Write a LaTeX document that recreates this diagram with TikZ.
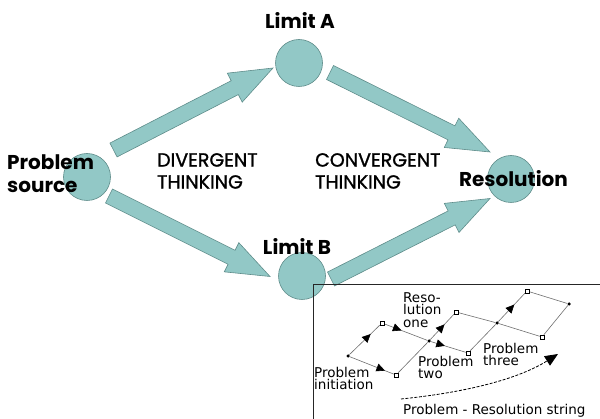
\documentclass[tikz,border=0pt]{standalone}
\usepackage{fontspec}
\setmainfont{Poppins}
\newfontfamily\thinkfont[FakeBold=1.3]{Poppins}
\newfontfamily\insetfont{DejaVu Sans}
\usetikzlibrary{calc,arrows.meta,decorations.markings,backgrounds}
\definecolor{tealfill}{HTML}{92C8C6}
\definecolor{tealline}{HTML}{5E8C8A}
\definecolor{edgegray}{HTML}{6E6E6E}
\tikzset{
  blob/.style={circle, draw=tealline, fill=tealfill, line width=0.6pt, minimum size=47pt, inner sep=0pt},
  bigarr/.style={draw=tealline, fill=tealfill, line width=0.6pt, line join=miter},
  biglbl/.style={font=\fontsize{20}{23}\selectfont\bfseries, inner sep=0pt, align=left},
  thinklbl/.style={font=\thinkfont\fontsize{19}{22}\selectfont, inner sep=0pt, align=left},
  smalllbl/.style={font=\insetfont\fontsize{13.5}{12.5}\selectfont, inner sep=0pt, align=left},
  knot/.style={circle, fill=black, inner sep=0pt, minimum size=3.5pt},
  limitsq/.style={rectangle, draw=black, fill=white, line width=0.5pt, inner sep=0pt, minimum size=4pt},
  link/.style={draw=edgegray, line width=0.6pt},
  tri/.style={postaction={decorate, decoration={markings,
      mark=at position #1 with {\arrow{Triangle[length=8.5pt,width=8pt,color=black,fill=black]}}}}},
  stringarr/.style={line width=0.8pt, dash pattern=on 3pt off 1.5pt, -{Triangle[length=13pt,width=11pt]}},
}
% fat arrow between two points
\newcommand{\bigarrow}[2]{%
  \coordinate (neck) at ($(#2)!43pt!(#1)$);
  \filldraw[bigarr] ($(#1)!7.8pt!90:(#2)$) -- ($(neck)!7.8pt!-90:(#1)$)
    -- ($(neck)!16.3pt!-90:(#1)$) -- (#2) -- ($(neck)!16.3pt!90:(#1)$)
    -- ($(neck)!7.8pt!90:(#1)$) -- ($(#1)!7.8pt!-90:(#2)$) -- cycle;}

\begin{document}
\begin{tikzpicture}[x=1pt, y=-1pt]
  \useasboundingbox (0,0) rectangle (600,419);

  % the four stages
  \node[blob] (ps) at (87,177) {};
  \node[blob] (lima) at (299,63) {};
  \node[blob] (limb) at (302,276) {};
  \node[blob] (res) at (511,179) {};

  \coordinate (upS) at ([shift={(26.5,-27)}]ps.center);
  \coordinate (upE) at ([shift={(-26,5)}]lima.center);
  \coordinate (dnS) at ([shift={(22,19)}]ps.center);
  \coordinate (dnE) at ([shift={(-32,0.5)}]limb.center);
  \coordinate (cvaS) at ([shift={(31,9.5)}]lima.center);
  \coordinate (cvaE) at ([shift={(-21,-27)}]res.center);
  \coordinate (cvbS) at ([shift={(29,3)}]limb.center);
  \coordinate (cvbE) at ([shift={(-21,19.5)}]res.center);
  \bigarrow{upS}{upE}
  \bigarrow{dnS}{dnE}
  \bigarrow{cvaS}{cvaE}
  \bigarrow{cvbS}{cvbE}

  \node[biglbl, anchor=north west] (pslbl) at (7,155) {Problem\\source};
  \node[biglbl] (limalbl) at (300,20) {Limit A};
  \node[biglbl] (limblbl) at (297,246) {Limit B};
  \node[biglbl] (reslbl) at (513.5,178.5) {Resolution};
  \node[thinklbl, anchor=north west] (divlbl) at (157,153) {DIVERGENT\\THINKING};
  \node[thinklbl, anchor=north west] (convlbl) at (315,153) {CONVERGENT\\THINKING};

  % inset: problem - resolution string
  \draw[line width=0.8pt, draw=black!85] (313,284) rectangle (610,430);

  \node[knot] (ini) at (348,356) {};
  \node[limitsq] (up1) at (382,323) {};
  \node[knot] (res1) at (429,341) {};
  \node[limitsq] (lo1) at (396,375) {};
  \node[limitsq] (up2) at (456,312) {};
  \node[knot] (res2) at (497,323) {};
  \node[limitsq] (lo2) at (468,353) {};
  \node[limitsq] (up3) at (527,291) {};
  \node[knot] (res3) at (569,304) {};
  \node[limitsq] (lo3) at (542,337) {};

  \begin{scope}[on background layer]
    \draw[link, tri=0.7] (ini) -- (up1);
    \draw[link, tri=0.8] (ini) -- (lo1);
    \draw[link, tri=0.4] (up1) -- (res1);
    \draw[link] (lo1) -- (res1);
    \draw[link, tri=0.6] (res1) -- (up2);
    \draw[link, tri=0.4] (res1) -- (lo2);
    \draw[link] (up2) -- (res2);
    \draw[link] (lo2) -- (res2);
    \draw[link, tri=0.6] (res2) -- (up3);
    \draw[link] (res2) -- (lo3);
    \draw[link] (up3) -- (res3);
    \draw[link] (lo3) -- (res3);
  \end{scope}

  \node[smalllbl, anchor=north west] (r1lbl) at (403,292) {Reso-\\lution\\one};
  \node[smalllbl, anchor=north west] (p2lbl) at (418,356) {Problem\\two};
  \node[smalllbl, anchor=north west] (p3lbl) at (483,343) {Problem\\three};
  \node[smalllbl, anchor=north west] (inilbl) at (314,367) {Problem\\initiation};
  \node[smalllbl, anchor=north west] (strlbl) at (403,404) {Problem - Resolution string};

  \coordinate (strS) at (401,399);
  \coordinate (strE) at (558,354);
  \draw[stringarr] (strS) .. controls (470,392) and (520,378) .. (strE);
\end{tikzpicture}
\end{document}
